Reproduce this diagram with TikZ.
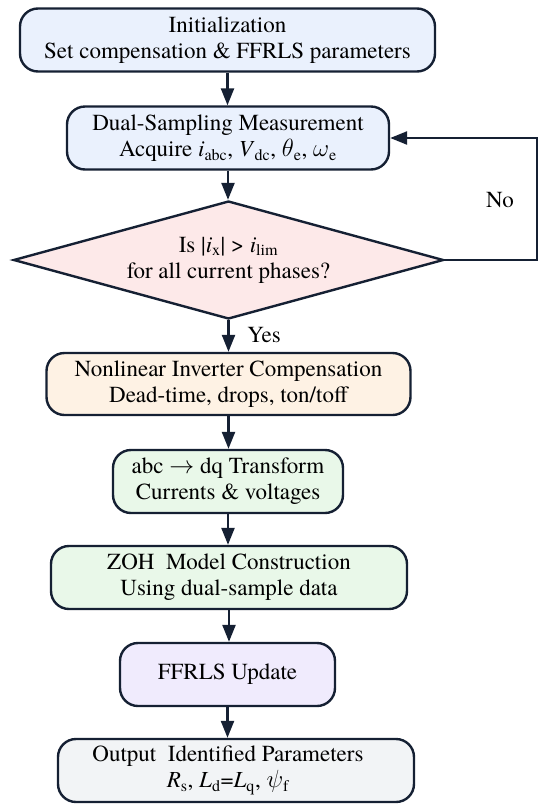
\documentclass[tikz,border=0pt]{standalone}
\usepackage{fontspec}
\IfFontExistsTF{texgyretermes-regular.otf}
  {\setmainfont{texgyretermes}[Extension=.otf, UprightFont=*-regular,
     ItalicFont=*-italic, BoldFont=*-bold, BoldItalicFont=*-bolditalic]}
  {\setmainfont{Liberation Serif}}
\usetikzlibrary{shapes.geometric,arrows.meta}
\definecolor{bordc}{HTML}{152033}
\definecolor{fblue}{HTML}{EAF1FD}
\definecolor{fpink}{HTML}{FDE9E9}
\definecolor{forange}{HTML}{FEF2E4}
\definecolor{fgreen}{HTML}{E9F8E9}
\definecolor{fpurple}{HTML}{F0EBFD}
\definecolor{fgray}{HTML}{F2F4F6}
\newcommand{\vi}[1]{\textit{#1}}
\tikzset{
  stepbox/.style={draw=bordc, line width=2.4pt, rounded corners=18pt,
    minimum height=63pt, align=center, inner sep=0pt,
    font=\fontsize{23}{26}\selectfont},
  decbox/.style={draw=bordc, line width=2.4pt, shape=diamond, aspect=3.64,
    minimum width=430pt, minimum height=118pt, inner sep=0pt, align=center,
    font=\fontsize{23}{26}\selectfont},
  arr/.style={draw=bordc, line width=2.4pt, -{Triangle[length=17pt,width=13pt]}},
  lbl/.style={font=\fontsize{23}{26}\selectfont, inner sep=0pt}
}
\begin{document}
\begin{tikzpicture}[x=1pt,y=-1pt]
\useasboundingbox (0,0) rectangle (550,812);
\node[stepbox, fill=fblue, minimum width=415pt] (b1) at (227.5,40)
  {Initialization\\Set compensation \& FFRLS parameters};
\node[stepbox, fill=fblue, minimum width=322pt] (b2) at (228,138)
  {Dual-Sampling Measurement\\Acquire \vi{i}\textsubscript{abc}, \vi{V}\textsubscript{dc}, $\theta$\textsubscript{e}, $\omega$\textsubscript{e}};
\node[decbox, fill=fpink] (dia) at (228.5,260)
  {Is |\vi{i}\textsubscript{x}| > \vi{i}\textsubscript{lim}\\for all current phases?};
\node[stepbox, fill=forange, minimum width=364pt, minimum height=62pt] (b3) at (228.5,384)
  {Nonlinear Inverter Compensation\\Dead-time, drops, ton/toff};
\node[stepbox, fill=fgreen, minimum width=230pt] (b4) at (228,481.5)
  {abc $\rightarrow$ dq Transform\\Currents \& voltages};
\node[stepbox, fill=fgreen, minimum width=356pt] (b5) at (229,577.5)
  {ZOH\ \ Model Construction\\Using dual-sample data};
\node[stepbox, fill=fpurple, minimum width=215pt] (b6) at (227.5,674.5)
  {FFRLS Update};
\node[stepbox, fill=fgray, minimum width=356pt] (b7) at (236,770.5)
  {Output\ \ Identified Parameters\hspace*{16pt}\\\vi{R}\textsubscript{s}, \vi{L}\textsubscript{d}=\vi{L}\textsubscript{q}, $\psi$\textsubscript{f}\hspace*{16pt}};
\coordinate (loopc) at (537,0);
\draw[arr] (b1.south) -- (b1.south |- b2.north);
\draw[arr] (b2.south) -- (b2.south |- dia.north);
\draw[arr] (dia.south) -- (dia.south |- b3.north);
\draw[arr] (b3.south) -- (b3.south |- b4.north);
\draw[arr] (b4.south) -- (b4.south |- b5.north);
\draw[arr] (b5.south) -- (b5.south |- b6.north);
\draw[arr] (b6.south) -- (b6.south |- b7.north);
\draw[arr, rounded corners=0pt] (dia.east) -- (dia.east -| loopc) |- (b2.east);
\node[lbl] (no) at (500,200) {No};
\node[lbl] (yes) at (264,335) {Yes};
\end{tikzpicture}
\end{document}
